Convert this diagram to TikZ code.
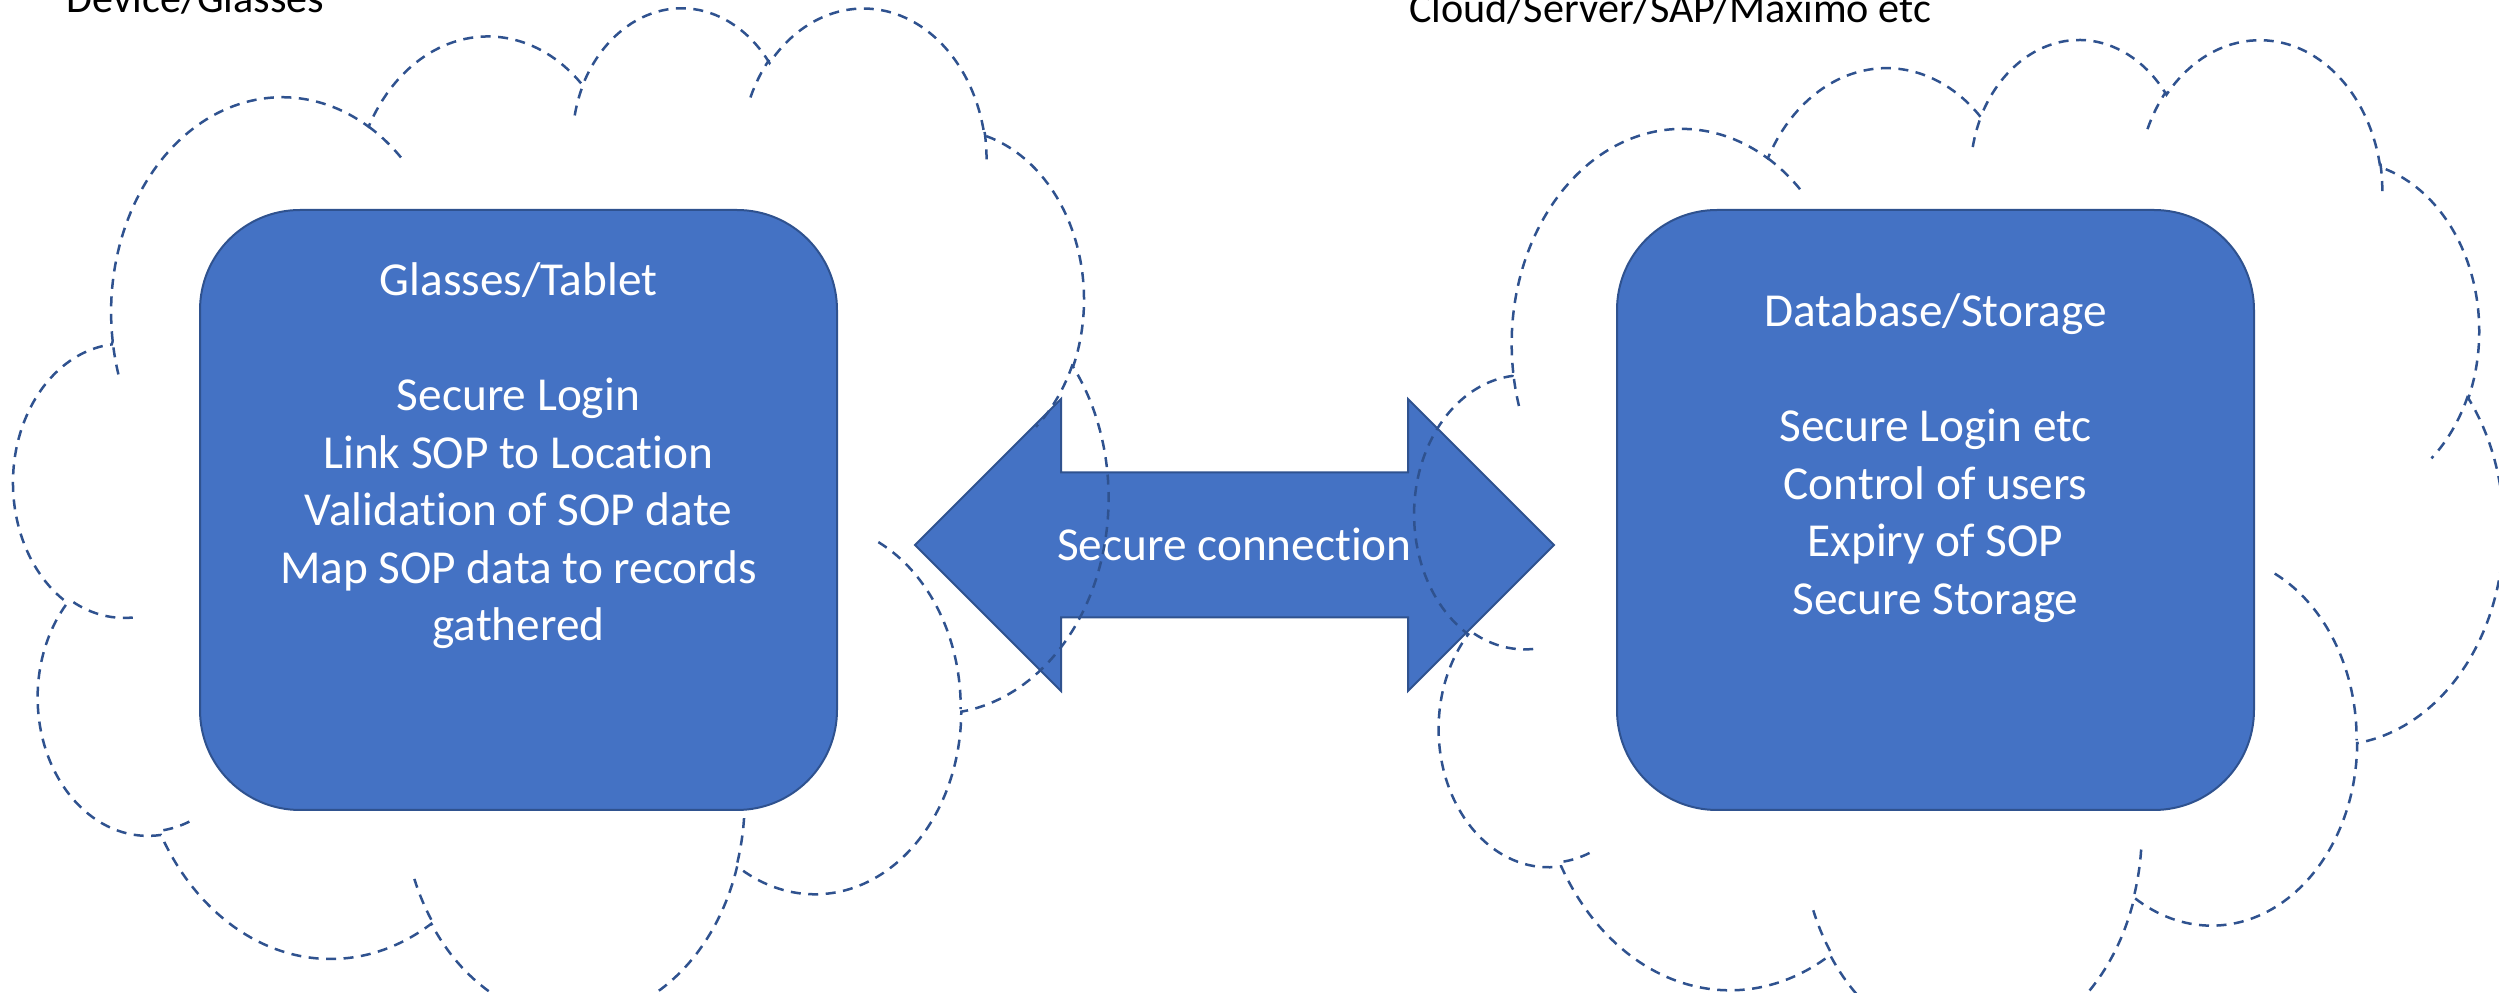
\documentclass[tikz,border=0pt]{standalone}
\usepackage{fontspec}
\setmainfont{Carlito}[Ligatures=NoCommon]
\usepackage{tikz}
\usetikzlibrary{positioning}
\usepackage{xcolor}
\definecolor{boxblue}{HTML}{4472C4}
\definecolor{edgeblue}{HTML}{2F528F}

% one arc of an office cloud: x radius, y radius, start and sweep (drawn angles)
\tikzset{
  ppt arc/.code n args={4}{%
    \pgfmathsetmacro\pptA{#3}%
    \pgfmathsetmacro\pptB{#3+#4}%
    \pgfmathsetmacro\pptD{atan2(#1*sin(\pptA),#2*cos(\pptA))-\pptA}%
    \pgfmathsetmacro\pptA{\pptA+\pptD-360*round(\pptD/360)}%
    \pgfmathsetmacro\pptD{atan2(#1*sin(\pptB),#2*cos(\pptB))-\pptB}%
    \pgfmathsetmacro\pptB{\pptB+\pptD-360*round(\pptD/360)}%
    \edef\pptOpts{start angle=\pptA, end angle=\pptB, x radius=#1, y radius=#2}%
    \expandafter\pgfkeysalso\expandafter{\pptOpts}%
  }
}
\newcommand\cloudoutline{%
  \draw[cl] (39.00,143.70)
    arc[ppt arc={67.53}{91.90}{-190.4875}{123.7805}]
    arc[ppt arc={53.33}{72.67}{-144.1024}{89.9452}]
    arc[ppt arc={43.65}{59.45}{-145.8079}{99.7230}]
    arc[ppt arc={48.57}{65.95}{-130.9861}{117.2417}]
    arc[ppt arc={53.33}{72.73}{-78.7089}{109.0269}]
    arc[ppt arc={67.75}{92.20}{-46.2673}{130.2690}]
    arc[ppt arc={57.85}{78.67}{0.6250}{114.0333}]
    arc[ppt arc={67.52}{92.15}{22.4516}{115.1726}]
    arc[ppt arc={77.20}{105.43}{66.2426}{75.7110}]
    arc[ppt arc={43.60}{59.18}{-274.9421}{146.7356}]
    arc[ppt arc={43.45}{59.45}{-246.8285}{152.5189}] -- cycle;
  % inner puff lines
  \draw[cl]
    (46.93,261.77) arc[ppt arc={43.45}{59.45}{86.742}{26.4295}]
    (69.28,348.99) arc[ppt arc={43.60}{59.18}{73.6105}{11.4475}]
    (164.78,390.90) arc[ppt arc={67.52}{92.15}{137.624}{14.0811}]
    (288.27,347.51) arc[ppt arc={67.52}{92.15}{6.4533}{15.9984}]
    (341.29,229.54) arc[ppt arc={57.85}{78.67}{-70.2924}{70.9174}]
    (417.98,153.54) arc[ppt arc={53.33}{72.73}{30.318}{27.7515}]
    (383.24,54.26) arc[ppt arc={48.57}{65.95}{-13.7443}{14.8589}]
    (290.78,39.52) arc[ppt arc={48.57}{65.95}{-149.1815}{18.1954}]
    (221.41,47.20) arc[ppt arc={43.65}{59.45}{-163.4943}{17.6864}]
    (140.00,51.92) arc[ppt arc={67.53}{91.90}{-66.707}{12.3194}]
    (41.27,157.89) arc[ppt arc={67.53}{91.90}{157.6544}{11.8582}];
}

\begin{document}
\begin{tikzpicture}[x=0.1mm, y=-0.1mm,
  box/.style={draw=edgeblue, fill=boxblue, line width=0.2mm, rounded corners=10mm,
    minimum width=63.7mm, minimum height=60mm, inner sep=0pt},
  txt/.style={text=white, align=center, inner sep=0pt, font=\fontsize{13.46pt}{16.36pt}\selectfont},
  lbl/.style={text=black, inner sep=0pt, anchor=base, font=\fontsize{12pt}{14.6pt}\selectfont},
  cl/.style={draw=edgeblue, line width=0.25mm, dash pattern=on 1mm off 0.75mm},
  body/.style={draw=edgeblue, fill=boxblue, line width=0.2mm}]
  \useasboundingbox (0,0) rectangle (2499,993);
  \clip (0,0) rectangle (2499,993);
  \node[box] (glasses) at (518.5,510) {};
  \node[box] (storage) at (1935.5,510) {};
  \node[txt, anchor=north] (glassestxt) at (518.5,262) {Glasses/Tablet\\[16.36pt]Secure Login\\Link SOP to Location\\Validation of SOP date\\Map SOP data to records\\gathered};
  \node[txt, anchor=north] (storagetxt) at (1935.5,293) {Database/Storage\\[16.36pt]Secure Login etc\\Control of users\\Expiry of SOP\\Secure Storage};
  % double arrow between the two ends
  \coordinate (mid) at (1234.5,545);
  \draw[body] (mid) ++(-319.5,0) -- ++(146,-146) -- ++(0,73.5) -- ++(347,0) -- ++(0,-73.5)
    -- ++(146,146) -- ++(-146,146) -- ++(0,-73.5) -- ++(-347,0) -- ++(0,73.5) -- cycle;
  \node[txt, anchor=base] (link) at (1234.5,561) {Secure connection};
  % the two clouds
  \begin{scope}[shift={(13.9,5)}, x=0.2533mm, y=-0.234mm]
    \cloudoutline
  \end{scope}
  \begin{scope}[shift={(1415,36.7)}, x=0.2519mm, y=-0.2339mm]
    \cloudoutline
  \end{scope}
  \node[lbl] (device) at (195.5,13) {Device/Glasses};
  \node[lbl] (server) at (1670,23) {Cloud/Server/SAP/Maximo etc};
\end{tikzpicture}
\end{document}
